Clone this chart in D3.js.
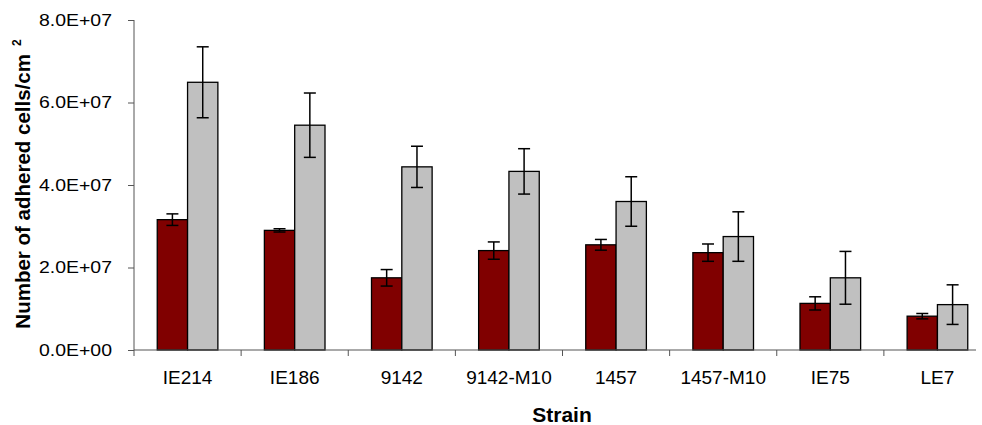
<!DOCTYPE html>
<html lang="en">
<head>
    <meta charset="UTF-8">
    <title>Adhered cells per strain</title>
    <script src="https://cdn.jsdelivr.net/npm/d3@7/dist/d3.min.js"></script>
    <style>
        body { margin: 0; background: #fff; }
        text { font-family: Arial, "Liberation Sans", sans-serif; fill: #000; }
    </style>
</head>
<body>
<svg id="main" width="982" height="425"></svg>
<script>
    // values
    const strains = ['IE214', 'IE186', '9142', '9142-M10', '1457', '1457-M10', 'IE75', 'LE7'];
    const darkValues = [3.16e7, 2.90e7, 1.75e7, 2.41e7, 2.55e7, 2.36e7, 1.13e7, 0.82e7];
    const darkErrors = [0.14e7, 0.04e7, 0.20e7, 0.21e7, 0.13e7, 0.21e7, 0.16e7, 0.065e7];
    const greyValues = [6.49e7, 5.45e7, 4.44e7, 4.33e7, 3.60e7, 2.75e7, 1.75e7, 1.10e7];
    const greyErrors = [0.86e7, 0.78e7, 0.50e7, 0.55e7, 0.60e7, 0.60e7, 0.64e7, 0.48e7];
    const yTicks = [0, 2e7, 4e7, 6e7, 8e7];

    const seriesKeys = ['dark', 'grey'];
    const colors = {dark: '#800000', grey: '#c0c0c0'};

    let svg = d3.select('svg#main');
    let plotLeft = 134, plotRight = 991, plotTop = 20, plotBottom = 350;

    let rows = strains.map((s, i) => ({
        strain: s,
        bars: [
            {key: 'dark', value: darkValues[i], err: darkErrors[i]},
            {key: 'grey', value: greyValues[i], err: greyErrors[i]}
        ]
    }));

    let x0 = d3.scaleBand().domain(strains).range([plotLeft, plotRight]);
    let x1 = d3.scaleBand().domain(seriesKeys)
        .range([0, x0.bandwidth()])
        .paddingInner(0).paddingOuter(0.767);
    let y = d3.scaleLinear().domain([0, 8e7]).range([plotBottom, plotTop]);

    function sci(v) {
        if (v === 0) return '0.0E+00';
        let e = Math.floor(Math.log10(v));
        let m = v / Math.pow(10, e);
        return m.toFixed(1) + 'E+' + String(e).padStart(2, '0');
    }

    // bars
    let groups = svg.selectAll('g.strain')
        .data(rows)
        .enter().append('g')
        .attr('class', 'strain')
        .attr('transform', d => 'translate(' + x0(d.strain) + ',0)');

    groups.selectAll('rect')
        .data(d => d.bars)
        .enter().append('rect')
        .attr('x', d => x1(d.key))
        .attr('y', d => y(d.value))
        .attr('width', x1.bandwidth())
        .attr('height', d => y(0) - y(d.value))
        .attr('fill', d => colors[d.key])
        .attr('stroke', '#000')
        .attr('stroke-width', 1.3);

    // error bars
    let errs = groups.selectAll('g.err')
        .data(d => d.bars)
        .enter().append('g')
        .attr('class', 'err')
        .attr('stroke', '#000')
        .attr('stroke-width', 1.5);
    let cx = d => x1(d.key) + x1.bandwidth() / 2;
    errs.append('line')
        .attr('x1', cx).attr('x2', cx)
        .attr('y1', d => y(d.value + d.err)).attr('y2', d => y(d.value - d.err));
    errs.append('line')
        .attr('x1', d => cx(d) - 6).attr('x2', d => cx(d) + 6)
        .attr('y1', d => y(d.value + d.err)).attr('y2', d => y(d.value + d.err));
    errs.append('line')
        .attr('x1', d => cx(d) - 6).attr('x2', d => cx(d) + 6)
        .attr('y1', d => y(d.value - d.err)).attr('y2', d => y(d.value - d.err));

    // y axis
    let yAxis = svg.append('g')
        .attr('transform', 'translate(' + plotLeft + ',0)')
        .call(d3.axisLeft(y).tickValues(yTicks).tickFormat(sci).tickSizeInner(6).tickSizeOuter(0).tickPadding(16));
    yAxis.select('.domain').attr('stroke', '#555').attr('d', 'M0,' + plotTop + 'V' + (plotBottom + 6));
    yAxis.selectAll('.tick line').attr('stroke', '#555');
    yAxis.selectAll('.tick text')
        .style('font-size', '17px')
        .attr('textLength', 73)
        .attr('lengthAdjust', 'spacingAndGlyphs');

    // x axis: ticks at category boundaries
    let xAxis = svg.append('g').attr('transform', 'translate(0,' + plotBottom + ')');
    xAxis.append('line')
        .attr('x1', plotLeft).attr('x2', 976)
        .attr('stroke', '#555');
    xAxis.selectAll('line.bound')
        .data(strains.slice(1))
        .enter().append('line')
        .attr('class', 'bound')
        .attr('x1', d => x0(d)).attr('x2', d => x0(d))
        .attr('y1', 0).attr('y2', 6)
        .attr('stroke', '#555');
    xAxis.selectAll('text.cat')
        .data(strains)
        .enter().append('text')
        .attr('class', 'cat')
        .attr('x', d => x0(d) + x0.bandwidth() / 2)
        .attr('y', 33.5)
        .attr('text-anchor', 'middle')
        .style('font-size', '19px')
        .text(d => d);

    // titles
    svg.append('text')
        .attr('x', 562).attr('y', 422)
        .attr('text-anchor', 'middle')
        .style('font-size', '21px').style('font-weight', 'bold')
        .text('Strain');

    let yt = svg.append('text')
        .attr('transform', 'translate(30,184) rotate(-90)')
        .attr('text-anchor', 'middle')
        .style('font-size', '20.5px').style('font-weight', 'bold');
    yt.append('tspan').text('Number of adhered cells/cm');
    yt.append('tspan').attr('dx', 8).attr('dy', -9).style('font-size', '12px').text('2');
</script>
</body>
</html>
